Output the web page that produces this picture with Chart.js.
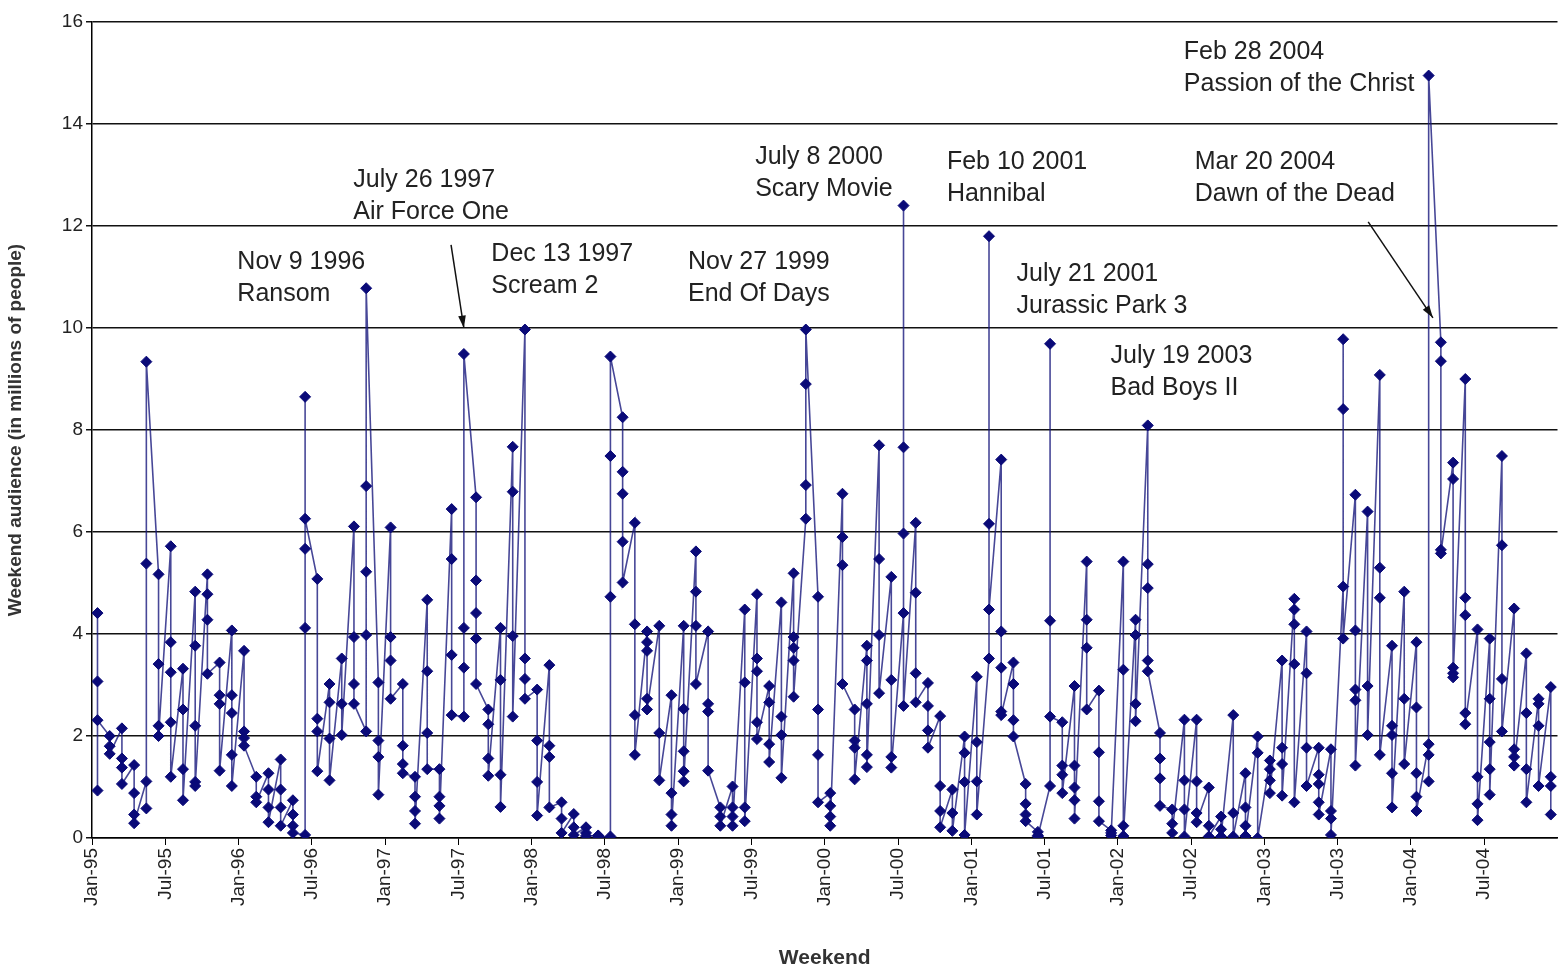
<!DOCTYPE html>
<html>
<head>
<meta charset="utf-8">
<script src="https://cdn.jsdelivr.net/npm/chart.js@4"></script>
<style>
  body { margin: 0; background: #fff; }
  #wrap { width: 1564px; height: 973px; }
</style>
</head>
<body>
<div id="wrap"><canvas id="chart"></canvas></div>
<script>
// weekend audiences (millions), grouped by month; one inner array per month
const y1995 = [[0.93,4.41,3.07,2.31],[2.0,1.8,1.65],[2.15,1.56,1.38,1.06],[1.43,0.88,0.46,0.29],[1.11,0.58,5.38,9.34],[5.17,3.41,2.2,2.0],[5.72,3.84,3.25,2.27,1.2],[3.32,2.52,1.35,0.74],[4.83,3.77,2.2,1.1,1.02],[5.17,4.78,4.28,3.22],[3.44,2.8,2.63,1.32],[4.07,2.8,2.45,1.63,1.02]];
const y1996 = [[3.67,2.09,1.96,1.81],[1.2,0.81,0.7],[1.27,0.95,0.6,0.31],[1.54,0.95,0.6,0.24],[0.74,0.46,0.24,0.1],[0.06,4.12,8.65,5.67,6.26],[5.08,2.34,2.09,1.31],[3.02,2.66,1.95,1.13],[3.52,2.63,2.02],[6.11,3.94,3.02,2.63],[2.09,3.98,5.22,6.9,10.78],[3.05,1.91,1.59,0.85]];
const y1997 = [[6.09,3.94,3.48,2.73],[3.02,1.81,1.45,1.27],[1.2,0.81,0.53,0.28],[4.67,3.27,2.06,1.35],[1.35,0.81,0.63,0.38],[6.45,5.47,3.59,2.41],[2.38,3.34,4.12,9.49],[6.68,5.05,4.41,3.91,3.02],[2.52,2.23,1.56,1.22],[4.12,3.1,1.24,0.61],[7.67,6.79,3.96,2.38],[9.97,3.52,3.12,2.73]];
const y1998 = [[2.91,1.91,1.1,0.44],[3.39,1.81,1.59,0.6],[0.7,0.38,0.1],[0.47,0.21,0.06],[0.21,0.1,0.04],[0.05,0.04,0.02],[0.03,4.73,7.49,9.44],[8.25,7.18,6.75,5.81,5.01],[6.18,4.19,2.41,1.63],[4.05,3.84,3.67,2.73,2.52],[4.16,2.06,1.13],[2.8,0.88,0.46,0.24]];
const y1999 = [[4.16,2.53,1.7,1.31,1.11],[5.62,4.83,4.16,3.02],[4.05,2.63,2.48,1.32],[0.6,0.42,0.24],[1.01,0.6,0.42,0.24],[4.48,3.05,0.6,0.33],[4.78,3.52,3.27,2.27,1.94],[2.98,2.66,1.84,1.49],[4.62,2.38,2.02,1.18],[5.19,3.94,3.73,3.48,2.77],[6.26,6.92,8.9,9.97],[4.73,2.52,1.63,0.7]];
const y2000 = [[0.88,0.63,0.42,0.24],[6.75,5.9,5.35,3.02],[2.52,1.91,1.77,1.15],[3.77,3.48,2.63,1.63,1.39],[7.7,5.47,3.98,2.84],[5.12,3.1,1.59,1.38],[4.41,12.4,7.66,5.97,2.59],[6.18,4.81,3.23,2.66],[3.04,2.59,2.11,1.77],[2.39,1.02,0.53,0.21],[0.95,0.49,0.14],[1.99,1.67,1.1,0.06]];
const y2001 = [[3.16,1.88,1.11,0.46],[3.52,11.8,6.16,4.48],[7.42,4.05,3.34,2.48,2.41],[3.44,3.02,2.31,1.99],[1.06,0.67,0.46,0.33],[0.12,0.05,0.03],[1.02,9.69,4.26,2.38],[2.27,1.42,1.24,0.88],[2.98,1.42,0.99,0.74,0.38],[5.42,4.28,3.73,2.52],[2.89,1.68,0.72,0.33],[0.15,0.1,0.05]];
const y2002 = [[5.42,3.3,0.24,0.04],[4.28,3.98,2.63,2.29],[8.09,5.37,4.9,3.48,3.27],[2.06,1.56,1.17,0.63],[0.56,0.28,0.1],[2.32,1.13,0.56,0.03],[2.32,1.11,0.49,0.31],[0.99,0.24,0.03],[0.42,0.17,0.03],[2.41,0.49,0.03],[1.27,0.6,0.24,0.04],[1.99,1.67,0]];
const y2003 = [[1.52,1.35,1.13,0.88],[3.48,1.77,1.45,0.83],[4.69,4.48,4.19,3.41,0.7],[4.05,3.23,1.77,1.02],[1.77,1.24,1.06,0.7,0.46],[1.74,0.53,0.38,0.06],[4.93,8.41,9.78,3.91],[6.73,4.07,2.91,2.7,1.42],[6.4,2.98,2.02],[9.08,5.3,4.71,1.63],[3.77,2.2,2.02,1.27,0.6],[4.83,2.73,1.45]];
const y2004 = [[3.84,2.56,1.27,0.81,0.53],[1.84,1.63,1.11,14.95],[9.72,9.35,5.65,5.58],[7.36,7.04,3.34,3.23,3.15],[9.0,4.71,4.37,2.45,2.23],[4.09,1.2,0.67,0.35],[3.91,2.73,1.88,1.35,0.85],[7.49,5.74,3.12,2.09],[4.5,1.74,1.59,1.42],[3.62,2.45,1.35,0.7],[2.73,2.63,2.2,1.02],[2.96,1.2,1.02,0.46]];
const years = [y1995, y1996, y1997, y1998, y1999, y2000, y2001, y2002, y2003, y2004];
const tickMonths = ['Jan', 'Jul'];
const yTicks = [0, 2, 4, 6, 8, 10, 12, 14, 16];

// annotations: [month position, value, line1, line2]
const notes = [
  [11.9, 11.3, 'Nov 9 1996', 'Ransom'],
  [21.4, 12.9, 'July 26 1997', 'Air Force One'],
  [32.7, 11.45, 'Dec 13 1997', 'Scream 2'],
  [48.8, 11.3, 'Nov 27 1999', 'End Of Days'],
  [54.3, 13.35, 'July 8 2000', 'Scary Movie'],
  [70.0, 13.25, 'Feb 10 2001', 'Hannibal'],
  [75.7, 11.05, 'July 21 2001', 'Jurassic Park 3'],
  [83.4, 9.45, 'July 19 2003', 'Bad Boys II'],
  [89.4, 15.4, 'Feb 28 2004', 'Passion of the Christ'],
  [90.3, 13.25, 'Mar 20 2004', 'Dawn of the Dead']
];
const arrows = [
  [29.4, 11.63, 30.45, 10.0],
  [104.5, 12.08, 109.8, 10.2]
];

const points = [];
years.forEach((yr, yi) => {
  yr.forEach((vals, mi) => {
    vals.forEach(v => points.push({ x: yi * 12 + mi + 0.45, y: v }));
  });
});

const FONT = '"Liberation Sans", Arial, sans-serif';

const notesPlugin = {
  id: 'notes',
  afterDatasetsDraw(chart) {
    const { ctx, scales: { x, y } } = chart;
    ctx.save();
    ctx.fillStyle = '#222';
    ctx.font = '25px ' + FONT;
    ctx.textBaseline = 'middle';
    notes.forEach(n => {
      const px = x.getPixelForValue(n[0]), py = y.getPixelForValue(n[1]);
      ctx.fillText(n[2], px, py);
      ctx.fillText(n[3], px, py + 32);
    });
    ctx.strokeStyle = '#111';
    ctx.fillStyle = '#111';
    ctx.lineWidth = 1.5;
    arrows.forEach(a => {
      const x1 = x.getPixelForValue(a[0]), y1 = y.getPixelForValue(a[1]);
      const x2 = x.getPixelForValue(a[2]), y2 = y.getPixelForValue(a[3]);
      ctx.beginPath(); ctx.moveTo(x1, y1); ctx.lineTo(x2, y2); ctx.stroke();
      const ang = Math.atan2(y2 - y1, x2 - x1);
      ctx.beginPath();
      ctx.moveTo(x2, y2);
      ctx.lineTo(x2 - 13 * Math.cos(ang - 0.3), y2 - 13 * Math.sin(ang - 0.3));
      ctx.lineTo(x2 - 13 * Math.cos(ang + 0.3), y2 - 13 * Math.sin(ang + 0.3));
      ctx.closePath(); ctx.fill();
    });
    ctx.restore();
  }
};

new Chart(document.getElementById('chart'), {
  type: 'line',
  data: {
    datasets: [{
      data: points,
      borderColor: 'rgba(25,25,125,0.8)',
      borderWidth: 1.6,
      pointStyle: 'rectRot',
      pointRadius: 5.5,
      pointBackgroundColor: '#0a0a78',
      pointBorderColor: '#0a0a78',
      pointBorderWidth: 1,
      tension: 0
    }]
  },
  options: {
    responsive: true,
    maintainAspectRatio: false,
    animation: false,
    layout: { padding: { left: 0, right: 2, top: 22, bottom: 0 } },
    plugins: { legend: { display: false }, tooltip: { enabled: false } },
    scales: {
      x: {
        type: 'linear',
        min: 0,
        max: 120,
        afterFit: s => { s.height = 135; },
        afterBuildTicks: s => {
          s.ticks = [];
          for (let m = 0; m < 120; m += 6) s.ticks.push({ value: m });
        },
        border: { color: '#000', width: 1.5 },
        grid: { drawOnChartArea: false, color: '#000', tickLength: 7 },
        ticks: {
          color: '#222',
          maxRotation: 90,
          minRotation: 90,
          autoSkip: false,
          font: { size: 19, family: FONT },
          callback: v => tickMonths[(v % 12) / 6] + '-' + String((95 + Math.floor(v / 12)) % 100).padStart(2, '0')
        },
        title: {
          display: true,
          text: 'Weekend',
          color: '#333',
          font: { size: 21, weight: 'bold', family: FONT },
          padding: { top: 0, bottom: 2 }
        }
      },
      y: {
        min: 0,
        max: 16,
        afterFit: s => { s.width = 92; },
        afterBuildTicks: s => { s.ticks = yTicks.map(v => ({ value: v })); },
        border: { color: '#000', width: 1.5 },
        grid: { color: '#111', lineWidth: 1.5, tickLength: 6 },
        ticks: {
          color: '#222',
          font: { size: 19, family: FONT }
        },
        title: {
          display: true,
          text: 'Weekend audience (in millions of people)',
          color: '#333',
          font: { size: 19, weight: 'bold', family: FONT },
          padding: { top: 4, bottom: 12 }
        }
      }
    }
  },
  plugins: [notesPlugin]
});
</script>
</body>
</html>
